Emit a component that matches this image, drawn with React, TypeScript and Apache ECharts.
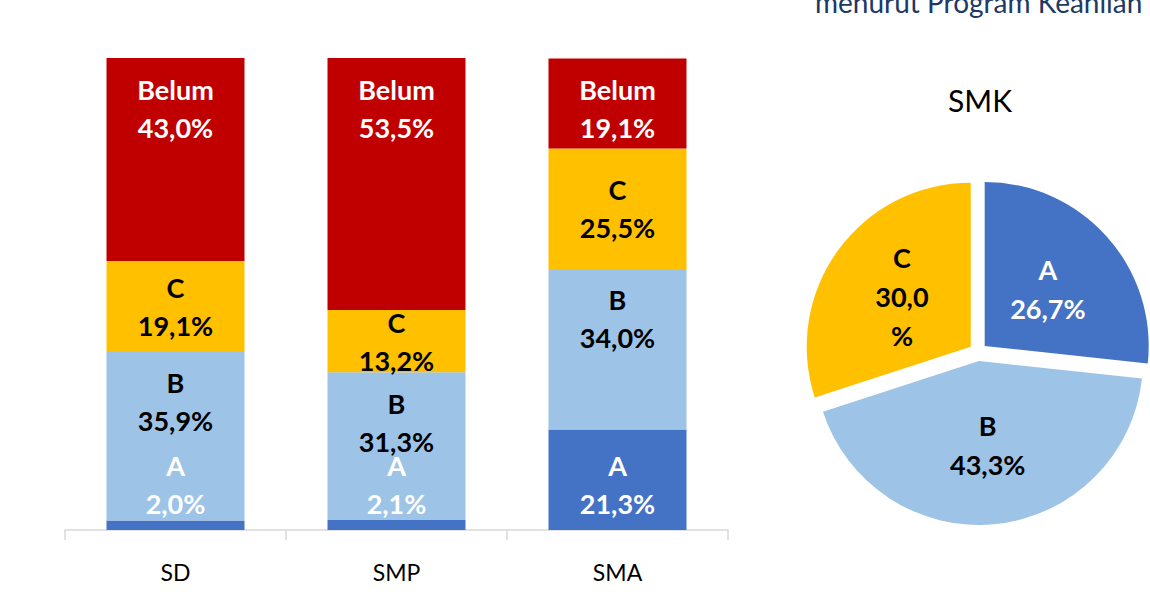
import React, { useEffect, useRef } from "react";
import * as echarts from "echarts";

const categories = ["SD", "SMP", "SMA"];
const valuesA = [2.0, 2.1, 21.3];
const valuesB = [35.9, 31.3, 34.0];
const valuesC = [19.1, 13.2, 25.5];
const valuesBelum = [43.0, 53.5, 19.1];

const pieNames = ["A", "B", "C"];
const pieValues = [26.7, 43.3, 30.0];

const titleText = "menurut Program Keahlian";
const pieTitle = "SMK";

const FONT = "Lato, 'Noto Sans', sans-serif";
const fmt = (v: number) => v.toFixed(1).replace(".", ",") + "%";

export default function App() {
  const ref = useRef<HTMLDivElement>(null);
  useEffect(() => {
    if (!ref.current) return;
    const chart = echarts.init(ref.current, undefined, { renderer: "svg" });
    const barLabel = (color: string, position: string, distance: number) => ({
      show: true,
      position,
      distance,
      color,
      fontFamily: FONT,
      fontWeight: "bold",
      fontSize: 27,
      lineHeight: 38,
      formatter: (p: any) => `${p.seriesName}\n${fmt(p.value)}`,
    });
    const mk = (name: string, data: number[], color: string, labelColor: string, pos: string, dist: number) => ({
      name,
      type: "bar",
      stack: "total",
      data,
      barWidth: 138,
      itemStyle: { color },
      label: barLabel(labelColor, pos, dist),
      emphasis: { disabled: true },
    });
    const option: any = {
      animation: false,
      textStyle: { fontFamily: FONT },
      grid: { left: 65, width: 663, top: 58, bottom: 74 },
      xAxis: {
        type: "category",
        data: categories,
        axisLine: { lineStyle: { color: "#D9D9D9", width: 1.5 } },
        axisTick: { show: true, length: 10, lineStyle: { color: "#D9D9D9", width: 1.5 } },
        axisLabel: { color: "#000", fontSize: 23, fontFamily: FONT, margin: 30 },
      },
      yAxis: { type: "value", min: 0, max: 100, show: false },
      series: [
        mk("A", valuesA, "#4472C4", "#FFFFFF", "insideBottom", 8),
        mk("B", valuesB, "#9DC3E6", "#000000", "insideTop", 12),
        mk("C", valuesC, "#FFC000", "#000000", "inside", 5),
        mk("Belum", valuesBelum, "#C00000", "#FFFFFF", "insideTop", 12),
        {
          type: "pie",
          center: [978, 352],
          radius: 164,
          startAngle: 90,
          clockwise: true,
          selectedMode: "multiple",
          selectedOffset: 9,
          emphasis: { disabled: true },
          label: {
            show: true,
            position: "inside",
            fontFamily: FONT,
            fontWeight: "bold",
            fontSize: 27,
            lineHeight: 39,
            formatter: (p: any) =>
              p.name === "C"
                ? `${p.name}\n${fmt(p.value).replace("%", "")}\n%`
                : `${p.name}\n${fmt(p.value)}`,
          },
          labelLine: { show: false },
          data: pieNames.map((n, i) => ({
            name: n,
            value: pieValues[i],
            selected: true,
            itemStyle: { color: ["#4472C4", "#9DC3E6", "#FFC000"][i] },
            label: { color: ["#FFFFFF", "#000000", "#000000"][i] },
          })),
        },
      ],
      graphic: [
        {
          type: "text",
          x: 815,
          y: 16,
          style: {
            text: titleText,
            font: `28px ${FONT}`,
            fill: "#203864",
            verticalAlign: "bottom",
          },
        },
        {
          type: "text",
          x: 980,
          y: 100,
          style: {
            text: pieTitle,
            font: `30px ${FONT}`,
            fill: "#000",
            align: "center",
            verticalAlign: "middle",
          },
        },
      ],
    };
    chart.setOption(option);
    return () => chart.dispose();
  }, []);
  return (
    <div
      ref={ref}
      style={{ position: "fixed", left: 0, top: 0, width: 1150, height: 604, background: "#fff" }}
    />
  );
}
